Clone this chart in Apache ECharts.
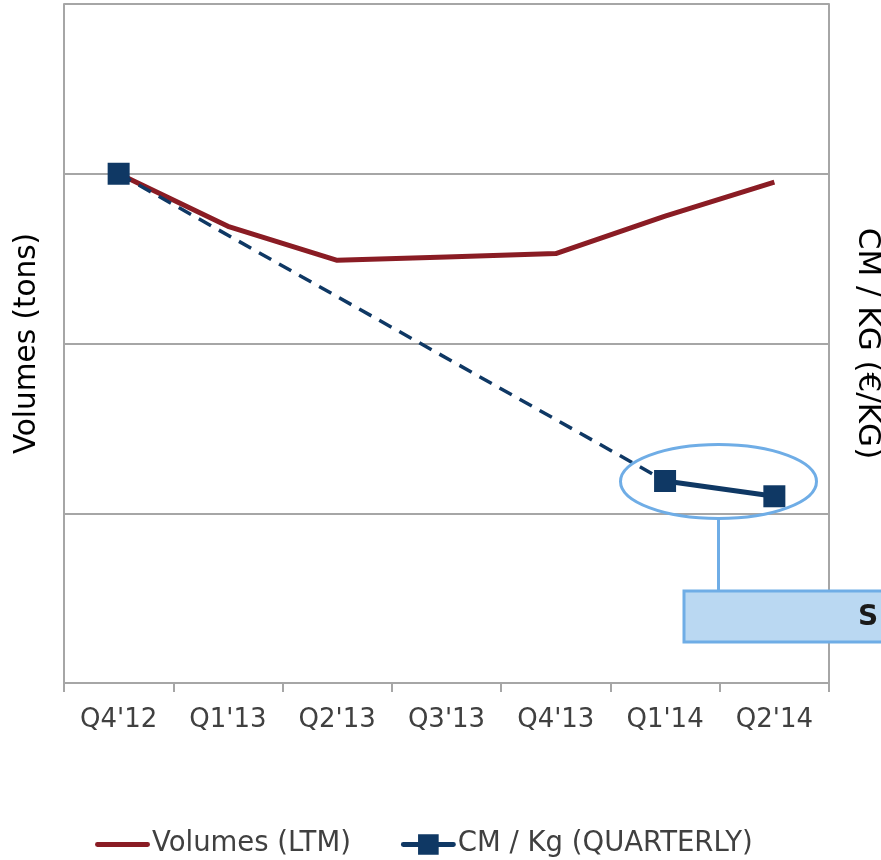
<!DOCTYPE html>
<html>
<head>
<meta charset="utf-8">
<script src="https://cdn.jsdelivr.net/npm/echarts@6/dist/echarts.min.js"></script>
<style>html,body{margin:0;padding:0;background:#fff}#c{width:881px;height:860px}</style>
</head>
<body>
<div id="c"></div>
<script>
const categories = ["Q4'12", "Q1'13", "Q2'13", "Q3'13", "Q4'13", "Q1'14", "Q2'14"];
const volumesLTM = [3.0, 2.69, 2.49, 2.51, 2.53, 2.75, 2.95];
const cmQuarterly = [3.0, null, null, null, null, 1.19, 1.10];
const leftAxisName = 'Volumes (tons)';
const rightAxisName = 'CM / KG (€/KG)';
const annotationText = 'S';

const RED = '#8a1c24';
const NAVY = '#0f3864';
const GRID = '#a6a6a6';
const FONT = 'DejaVu Sans';

const chart = echarts.init(document.getElementById('c'));
const dashedPart = cmQuarterly.map((v, i) => i <= 5 ? v : null);

const redIcon = 'path://M0,0 L0.01,0 L0.01,0.01 Z M2,9 L53,9 A2.5,2.5 0 0 1 53,14 L2,14 A2.5,2.5 0 0 1 2,9 Z M0,22 L0.01,22 L0.01,21.99 Z';
const blueIcon = 'path://M0,0 L0.01,0 L0.01,0.01 Z M2,9 L53,9 A2.5,2.5 0 0 1 53,14 L2,14 A2.5,2.5 0 0 1 2,9 Z M17,1 L38,1 L38,22 L17,22 Z';

chart.setOption({
  animation: false,
  textStyle: { fontFamily: FONT },
  grid: { left: 64, right: 52, top: 4, bottom: 177, containLabel: false, outerBoundsMode: 'none' },
  legend: {
    bottom: 2,
    padding: 0,
    left: 95,
    itemWidth: 55,
    itemHeight: 22,
    itemGap: 50,
    textStyle: { fontSize: 27.5, color: '#404040', fontFamily: FONT, padding: [0, 0, 0, -3] },
    data: [
      { name: 'Volumes (LTM)', icon: redIcon, itemStyle: { color: RED, borderWidth: 0 } },
      { name: 'CM / Kg (QUARTERLY)', icon: blueIcon, itemStyle: { color: NAVY, borderWidth: 0 } }
    ]
  },
  xAxis: {
    type: 'category',
    data: categories,
    boundaryGap: true,
    axisLine: { lineStyle: { color: GRID, width: 2 } },
    axisTick: { show: true, length: 9, lineStyle: { color: GRID, width: 2 } },
    axisLabel: { fontSize: 26, color: '#404040', margin: 24, fontFamily: FONT }
  },
  yAxis: [
    {
      type: 'value', min: 0, max: 4, interval: 1,
      name: leftAxisName, nameLocation: 'middle', nameRotate: 90, nameGap: 22,
      nameTextStyle: { fontSize: 29.5, color: '#000', fontFamily: FONT },
      axisLine: { show: true, lineStyle: { color: GRID, width: 2 } },
      axisTick: { show: false },
      axisLabel: { show: false },
      splitLine: { show: true, lineStyle: { color: GRID, width: 2 } }
    },
    {
      type: 'value', min: 0, max: 4, interval: 1, position: 'right',
      name: rightAxisName, nameLocation: 'middle', nameRotate: -90, nameGap: 23,
      nameTextStyle: { fontSize: 31, color: '#000', fontFamily: FONT },
      axisLine: { show: true, lineStyle: { color: GRID, width: 2 } },
      axisTick: { show: false },
      axisLabel: { show: false },
      splitLine: { show: false }
    }
  ],
  series: [
    {
      name: 'Volumes (LTM)', type: 'line', yAxisIndex: 0, data: volumesLTM,
      symbol: 'none', lineStyle: { color: RED, width: 5 }, itemStyle: { color: RED },
      z: 2
    },
    {
      name: 'CM / Kg (QUARTERLY)', type: 'line', yAxisIndex: 1, data: cmQuarterly,
      connectNulls: false, symbol: 'rect', symbolSize: 22, showAllSymbol: true,
      lineStyle: { color: NAVY, width: 5 }, itemStyle: { color: NAVY },
      z: 4
    },
    {
      name: 'CM / Kg (QUARTERLY)', type: 'line', yAxisIndex: 1, data: dashedPart,
      connectNulls: true, symbol: 'none',
      lineStyle: { color: NAVY, width: 3.5, type: [14, 9] }, itemStyle: { color: NAVY },
      z: 3
    }
  ],
  graphic: [
    { type: 'ellipse', shape: { cx: 718.5, cy: 481.5, rx: 98, ry: 37 },
      style: { fill: 'none', stroke: '#6fade6', lineWidth: 3 }, z: 10 },
    { type: 'line', shape: { x1: 718.5, y1: 519, x2: 718.5, y2: 591 },
      style: { stroke: '#6fade6', lineWidth: 3 }, z: 10 },
    { type: 'rect', shape: { x: 684, y: 591, width: 220, height: 51 },
      style: { fill: '#bad8f2', stroke: '#6fade6', lineWidth: 3 }, z: 10 },
    { type: 'text', x: 858, y: 618,
      style: { text: annotationText, font: 'bold 28px "DejaVu Sans"', fill: '#1a1a1a', verticalAlign: 'middle', align: 'left' }, z: 11 }
  ]
});
</script>
</body>
</html>
